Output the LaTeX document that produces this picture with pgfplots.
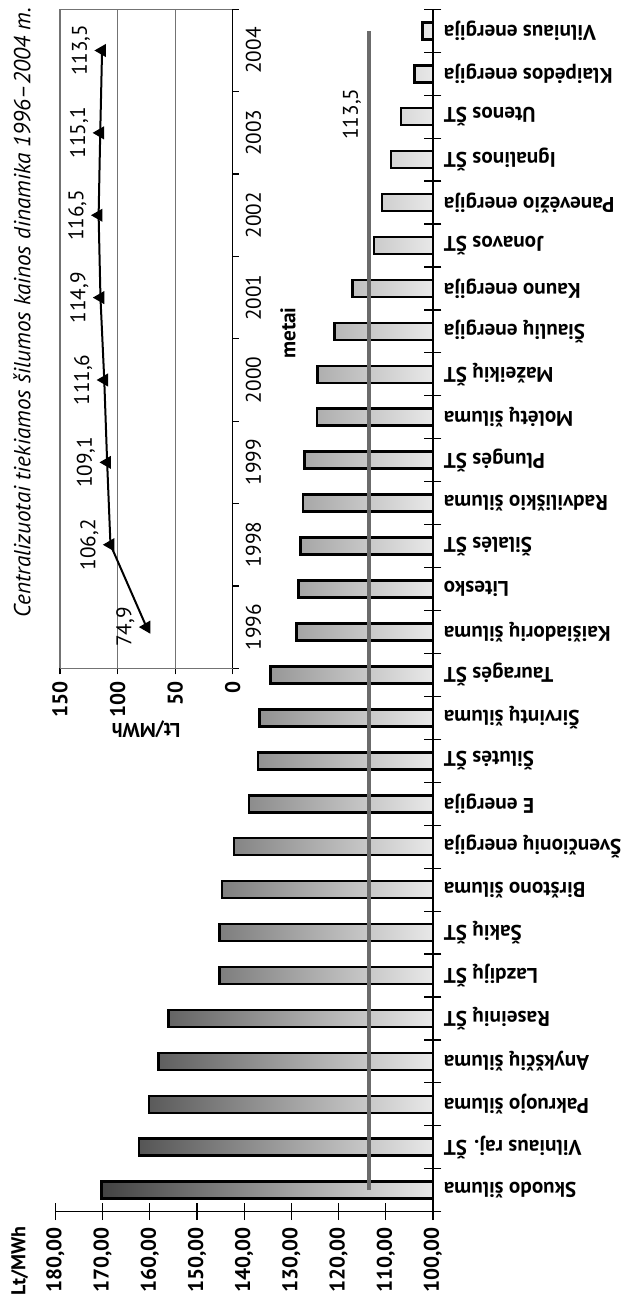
\documentclass[border=0pt]{standalone}
\usepackage{fontspec}
\setmainfont{PT Sans}
\usepackage{pgfplots}
\pgfplotsset{compat=1.18}
\pgfkeys{/pgf/number format/assume math mode=true}
\newcommand\fs{\fontsize{10.6bp}{12.5bp}\selectfont}

\begin{document}
\begin{tikzpicture}
\useasboundingbox (0,0) rectangle (312bp,-649bp);

% kainu dinamika 1996-2004
\begin{axis}[
  at={(73.2bp,-169.4bp)}, anchor=center,
  scale only axis, width=86.35bp, height=329.5bp,
  x dir=reverse, xmin=0, xmax=150, ymin=-0.5, ymax=7.5,
  /pgf/number format/assume math mode=true,
  axis x line*=box, axis y line*=right, separate axis lines,
  x axis line style={black!55, line width=0.6bp},
  y axis line style={black, line width=0.7bp},
  xtick={0,50,100,150}, xmajorgrids,
  major grid style={black!55, line width=0.6bp},
  xtick pos=bottom, ytick pos=right, yticklabel pos=right,
  tick align=outside, major tick length=3bp,
  tick style={black, line width=0.6bp},
  ytick={-0.5,0.5,...,7.5}, y tick label as interval,
  yticklabels={1996,1998,1999,2000,2001,2002,2003,2004},
  xticklabel style={rotate=90, anchor=east, font=\fs\bfseries},
  yticklabel style={rotate=90, anchor=north, font=\fs},
  clip=false,
]
\addplot[black, line width=1bp, mark=triangle*, mark size=2.8bp,
  mark options={rotate=90},
  point meta=x,
  nodes near coords={\pgfmathprintnumber[fixed,precision=1,use comma,assume math mode=true]{\pgfplotspointmeta}},
  every node near coord/.append style={rotate=90, anchor=south, font=\fs, inner sep=0pt, outer sep=6bp}]
  coordinates {(74.9,0) (106.2,1) (109.1,2) (111.6,3) (114.9,4) (116.5,5) (115.1,6) (113.5,7)};
\node[rotate=90, font=\fontsize{11.6bp}{13bp}\selectfont\itshape] at (axis cs:183,3.82) {Centralizuotai tiekiamos šilumos kainos dinamika 1996–2004 m.};
\node[rotate=90, font=\fs\bfseries] at (axis cs:-48,3.57) {metai};
\node[rotate=180, font=\fontsize{10bp}{11bp}\selectfont\bfseries] at (axis cs:75.3,-1.237) {Lt/MWh};
\end{axis}

% imoniu kainos
\begin{axis}[
  at={(122.1bp,-305.25bp)}, anchor=center,
  scale only axis, width=188.75bp, height=601.2bp,
  x dir=reverse, xmin=0, xmax=80,
  ymin=-0.5, ymax=27.5,
  /pgf/number format/assume math mode=true,
  x filter/.expression={x-100},
  axis x line*=bottom, axis y line*=right,
  axis line style={black, line width=0.6bp},
  tick style={black, line width=0.6bp},
  tick align=center, major tick length=8.5bp,
  xtick={0,10,...,80},
  xticklabel={\pgfmathparse{\tick+100}\pgfmathprintnumber[fixed,fixed zerofill,precision=2,use comma,assume math mode=true]{\pgfmathresult}},
  xticklabel style={rotate=90, anchor=east, font=\fs\bfseries},
  ytick={-0.5,0.5,...,27.5}, y tick label as interval,
  ytick pos=right, yticklabel pos=right,
  yticklabels={Skuodo šiluma, Vilniaus raj. ŠT, Pakruojo šiluma, Anykščių šiluma,
    Raseinių ŠT, Lazdijų ŠT, Šakių ŠT, Birštono šiluma, Švenčionių energija,
    E energija, Šilutės ŠT, Širvintų šiluma, Tauragės ŠT, Kaišiadorių šiluma,
    Litesko, Šilalės ŠT, Radviliškio šiluma, Plungės ŠT, Molėtų šiluma,
    Mažeikių ŠT, Šiaulių energija, Kauno energija, Jonavos ŠT,
    Panevėžio energija, Ignalinos ŠT, Utenos ŠT, Klaipėdos energija,
    Vilniaus energija},
  yticklabel style={rotate=180, anchor=east, font=\fs\bfseries, inner sep=1bp},
  clip=false,
]
\addplot[xbar, bar width=8.5bp, draw=black, line width=1.3bp,
  left color=black!74, right color=black!9]
  coordinates {
    (170.3,0) (162.3,1) (160.2,2) (158.2,3) (156.1,4) (145.2,5) (145.2,6)
    (144.7,7) (142.2,8) (139.0,9) (137.1,10) (136.7,11) (134.4,12)
    (128.9,13) (128.5,14) (128.1,15) (127.5,16) (127.2,17) (124.6,18)
    (124.5,19) (120.8,20) (117.0,21) (112.5,22) (110.8,23) (108.9,24)
    (106.8,25) (103.9,26) (102.2,27)
  };
\addplot[black!58, line width=2bp] coordinates {(113.5,0) (113.5,27)};
\node[rotate=90, font=\fs] at (axis cs:17.2,25.06) {113,5};
\node[rotate=90, anchor=west, font=\fontsize{10bp}{11bp}\selectfont\bfseries, inner sep=0pt] at (axis cs:87.6,-2.45) {Lt/MWh};
\end{axis}
\end{tikzpicture}
\end{document}
